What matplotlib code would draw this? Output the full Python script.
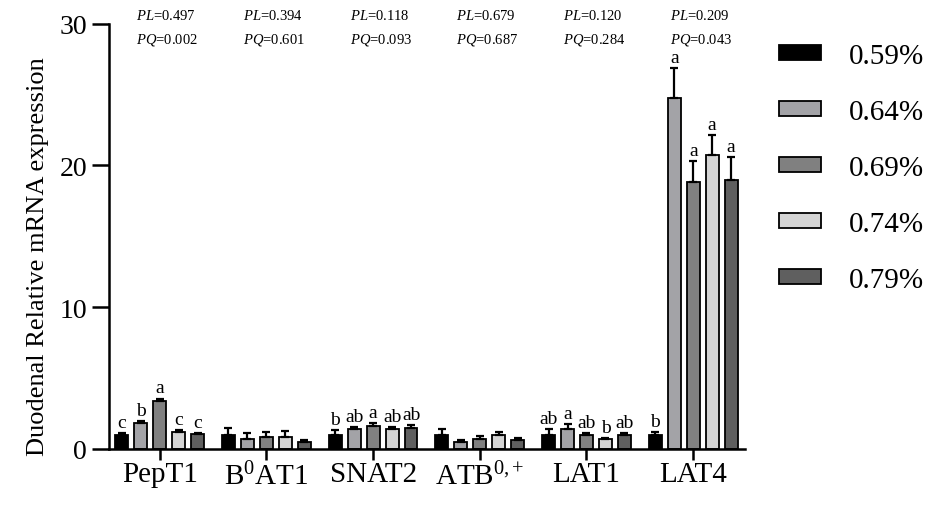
import matplotlib
matplotlib.use("Agg")
import matplotlib.pyplot as plt
import numpy as np
from matplotlib.patches import Patch

plt.rcParams['font.family'] = ['Liberation Serif', 'DejaVu Serif']
plt.rcParams['mathtext.fontset'] = 'custom'
plt.rcParams['mathtext.rm'] = 'Liberation Serif'
plt.rcParams['mathtext.it'] = 'Liberation Serif:italic'

genes = ["PepT1", r"B$^0$AT1", "SNAT2", r"ATB$^{0{,}+}$", "LAT1", "LAT4"]
levels = ["0.59%", "0.64%", "0.69%", "0.74%", "0.79%"]

# means per level (rows) across genes (columns)
means = [
    [1.00, 1.00, 1.00, 1.00, 0.97, 0.95],
    [1.85, 0.70, 1.42, 0.47, 1.42, 24.75],
    [3.40, 0.80, 1.63, 0.70, 0.95, 18.85],
    [1.20, 0.80, 1.37, 1.00, 0.66, 20.74],
    [1.05, 0.45, 1.45, 0.60, 1.00, 19.00],
]
errs = [
    [0.10, 0.50, 0.30, 0.40, 0.40, 0.25],
    [0.10, 0.40, 0.15, 0.14, 0.30, 2.15],
    [0.15, 0.40, 0.20, 0.23, 0.18, 1.45],
    [0.10, 0.45, 0.15, 0.20, 0.10, 1.44],
    [0.08, 0.17, 0.20, 0.17, 0.10, 1.57],
]
letters = [
    ["c", "", "b", "", "ab", "b"],
    ["b", "", "ab", "", "a", "a"],
    ["a", "", "a", "", "ab", "a"],
    ["c", "", "ab", "", "b", "a"],
    ["c", "", "ab", "", "ab", "a"],
]
pl_vals = ["0.497", "0.394", "0.118", "0.679", "0.120", "0.209"]
pq_vals = ["0.002", "0.601", "0.093", "0.687", "0.284", "0.043"]

colors = ["#000000", "#a3a3a7", "#808080", "#d4d4d4", "#5f5f5f"]

fig = plt.figure(figsize=(9.33, 5.06), dpi=100)
ax = fig.add_axes([0.117, 0.111, 0.682, 0.840])

x = np.arange(len(genes))
step = 0.178
width = 0.12
for i in range(len(levels)):
    pos = x + (i - 2) * step
    ax.bar(pos, means[i], width=width, color=colors[i], edgecolor="black",
           linewidth=1.3, zorder=2)
    ax.errorbar(pos, means[i], yerr=[np.zeros(len(genes)), errs[i]], fmt="none",
                ecolor="black", elinewidth=1.6, capsize=3, capthick=1.6, zorder=3)
    for j in range(len(genes)):
        if letters[i][j]:
            ax.annotate(letters[i][j], (pos[j], means[i][j] + errs[i][j]),
                        xytext=(0, 1.5), textcoords="offset points",
                        ha="center", va="bottom", fontsize=14)

for j in range(len(genes)):
    ax.text(x[j] - 0.22, 30.65, r"$\mathit{PL}$=" + pl_vals[j], ha="left",
            va="center", fontsize=10.5, clip_on=False)
    ax.text(x[j] - 0.22, 28.9, r"$\mathit{PQ}$=" + pq_vals[j], ha="left",
            va="center", fontsize=10.5, clip_on=False)

ax.set_xlim(-0.474, 5.49)
ax.set_ylim(0, 30)
ax.set_yticks([0, 10, 20, 30])
ax.set_xticks(x)
ax.set_xticklabels(genes, fontsize=21)
ax.tick_params(axis="y", labelsize=20, width=1.8, length=12, direction="out", pad=4)
ax.tick_params(axis="x", width=1.8, length=8, direction="out", pad=1)
for s in ["top", "right"]:
    ax.spines[s].set_visible(False)
for s in ["left", "bottom"]:
    ax.spines[s].set_linewidth(1.8)
ax.set_ylabel("Duodenal Relative mRNA expression", fontsize=19)
ax.yaxis.set_label_coords(-0.094, 0.454)

handles = [Patch(facecolor=c, edgecolor="black", linewidth=1.3) for c in colors]
fig.legend(handles, levels, loc="upper left", bbox_to_anchor=(0.822, 0.937),
           frameon=False, fontsize=21, handlelength=1.45, handleheight=0.42,
           labelspacing=1.03, handletextpad=0.95, borderaxespad=0)

fig.savefig("out.png", dpi=100)
